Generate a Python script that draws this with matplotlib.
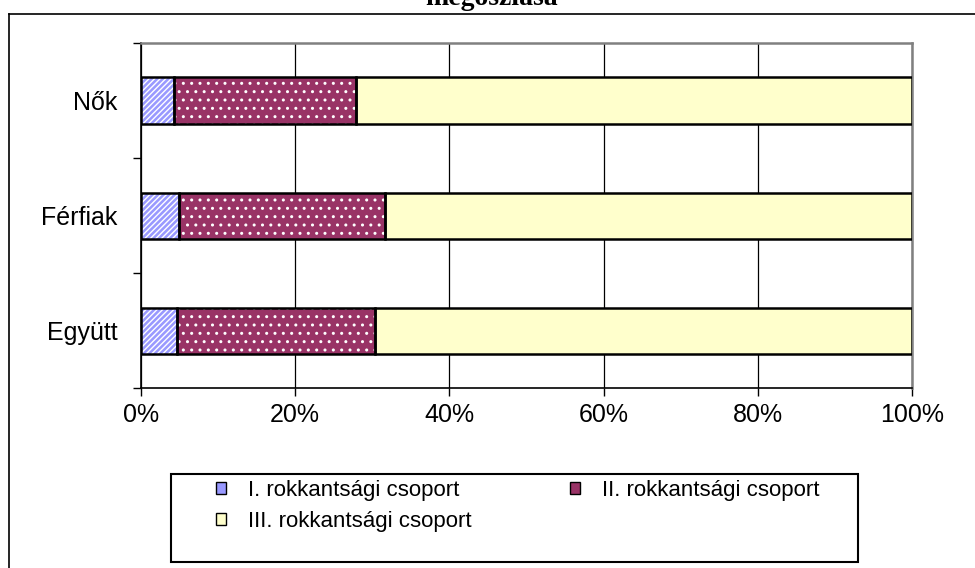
import matplotlib
matplotlib.use("Agg")
import matplotlib.pyplot as plt
from matplotlib.patches import Patch, Rectangle
from matplotlib.lines import Line2D

# --- adatok ---
categories = ["Együtt", "Férfiak", "Nők"]          # alulról felfelé
group_i = [4.7, 4.9, 4.3]
group_ii = [25.6, 26.7, 23.6]
group_iii = [69.7, 68.4, 72.1]
series_names = ["I. rokkantsági csoport", "II. rokkantsági csoport", "III. rokkantsági csoport"]
xticks = [0, 20, 40, 60, 80, 100]
xtick_labels = ["0%", "20%", "40%", "60%", "80%", "100%"]

colors = ["#9999FF", "#993366", "#FFFFCC"]
hatches = ["//////", "..", None]

plt.rcParams["font.family"] = ["Liberation Sans", "DejaVu Sans"]

W, H = 975, 568
fig = plt.figure(figsize=(W / 100, H / 100), dpi=100)

def fx(px):
    return px / W

def fy(py):
    return 1 - py / H

ax = fig.add_axes([fx(141), fy(388), fx(912 - 141), (388 - 43) / H])

ypos = list(range(len(categories)))
left = [0] * len(categories)
for vals, col, hat in zip([group_i, group_ii, group_iii], colors, hatches):
    # kitöltés fehér mintával, aztán fekete keret külön
    ax.barh(ypos, vals, left=left, height=0.4, color=col, hatch=hat,
            edgecolor="white", linewidth=0, zorder=3)
    ax.barh(ypos, vals, left=left, height=0.4, fill=False,
            edgecolor="black", linewidth=1.8, zorder=4)
    left = [a + b for a, b in zip(left, vals)]

ax.set_xlim(0, 100)
ax.set_ylim(-0.5, len(categories) - 0.5)

ax.set_xticks(xticks)
ax.set_xticklabels(xtick_labels, fontsize=18)
ax.tick_params(axis="x", direction="out", length=5.5, width=1, pad=5)

ax.set_yticks([-0.5, 0.5, 1.5, 2.5])
ax.set_yticklabels([])
ax.set_yticks(ypos, minor=True)
ax.set_yticklabels(categories, minor=True, fontsize=18)
ax.tick_params(axis="y", which="major", direction="out", length=6, width=1)
ax.tick_params(axis="y", which="minor", length=0, pad=17)

ax.grid(axis="x", color="black", linewidth=0.9, zorder=1)
ax.set_axisbelow(True)

for s in ["top", "right"]:
    ax.spines[s].set_color("#808080")
    ax.spines[s].set_linewidth(1.8)
ax.spines["left"].set_linewidth(1.2)
ax.spines["bottom"].set_linewidth(1.2)

# cím (felül levágva, mint az eredetin)
fig.text(fx(492), fy(5), "megoszlása", fontsize=20, fontweight="bold",
         family=["Liberation Serif", "DejaVu Serif"], ha="center", va="baseline")

# külső keret
fig.add_artist(Line2D([fx(9), fx(9)], [fy(14), 0], color="black", linewidth=1.2))
fig.add_artist(Line2D([fx(9), 1], [fy(14), fy(14)], color="black", linewidth=1.2))

# jelmagyarázat keret
fig.add_artist(Rectangle((fx(171), fy(562)), fx(858 - 171), (562 - 474) / H,
                         fill=False, edgecolor="black", linewidth=1.5))

# sorrend: oszloponként töltődik, így I, III, II
order = [0, 2, 1]
handles = [Patch(facecolor=colors[i], edgecolor="black", linewidth=1) for i in order]
labels = [series_names[i] for i in order]
leg = fig.legend(handles, labels, ncol=2, frameon=False, fontsize=16,
                 loc="upper left", bbox_to_anchor=(fx(216), fy(480)),
                 handlelength=0.45, handleheight=0.4, handletextpad=1.0,
                 columnspacing=4.4, labelspacing=0.45, borderpad=0, borderaxespad=0)

fig.savefig("out.png", dpi=100)
